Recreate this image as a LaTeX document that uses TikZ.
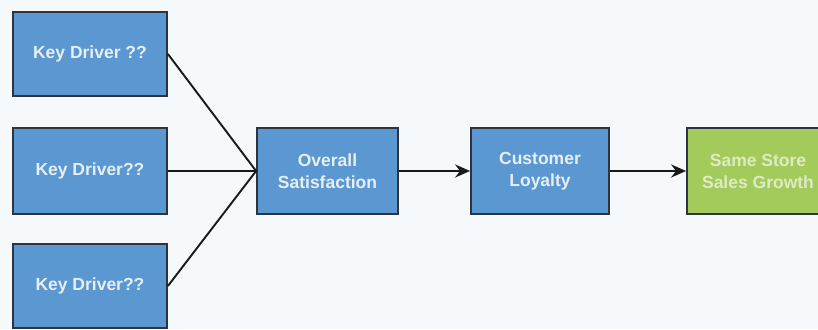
\documentclass[tikz,border=0pt]{standalone}
\usepackage{fontspec}
\setmainfont{Liberation Sans}
\usetikzlibrary{arrows.meta}
\definecolor{bgc}{HTML}{F5F9FC}
\definecolor{bluefill}{HTML}{5B97D1}
\definecolor{greenfill}{HTML}{A3CB5C}
\definecolor{edgec}{HTML}{2C3440}
\definecolor{bluetext}{HTML}{E6EEF6}
\definecolor{greentext}{HTML}{DDEBC4}
\tikzset{
  box/.style={rectangle, draw=edgec, line width=1.8pt, fill=bluefill,
    text=bluetext, align=center, inner sep=2pt,
    font=\bfseries\fontsize{17.5}{22}\selectfont},
  goalbox/.style={box, fill=greenfill, text=greentext},
  link/.style={line width=1.9pt, draw=black!90},
  flow/.style={link, -{Stealth[length=15pt, width=13pt]}}
}
\begin{document}
\begin{tikzpicture}[x=1pt,y=-1pt]
\useasboundingbox (0,0) rectangle (818,329);
\fill[bgc] (0,0) rectangle (818,329);
\clip (0,0) rectangle (818,329);

% drivers
\node[box, minimum width=154pt, minimum height=84pt] (k1) at (90,54) {Key Driver ??};
\node[box, minimum width=154pt, minimum height=86pt] (k2) at (90,171) {Key Driver??};
\node[box, minimum width=154pt, minimum height=84pt] (k3) at (90,286) {Key Driver??};

% chain
\node[box, minimum width=141pt, minimum height=86pt] (os) at (327.5,171) {Overall\\Satisfaction};
\node[box, minimum width=138pt, minimum height=86pt] (cl) at (540,171) {Customer\\Loyalty};
\node[goalbox, minimum width=142pt, minimum height=86pt] (ss) at (758,171) {Same Store\\Sales Growth};

% converging links
\draw[link] (k1.east) -- (os.west);
\draw[link] (k2.east) -- (os.west);
\draw[link] (k3.east) -- (os.west);

% flow arrows
\draw[flow] (os.east) -- (cl.west);
\draw[flow] (cl.east) -- (ss.west);
\end{tikzpicture}
\end{document}
